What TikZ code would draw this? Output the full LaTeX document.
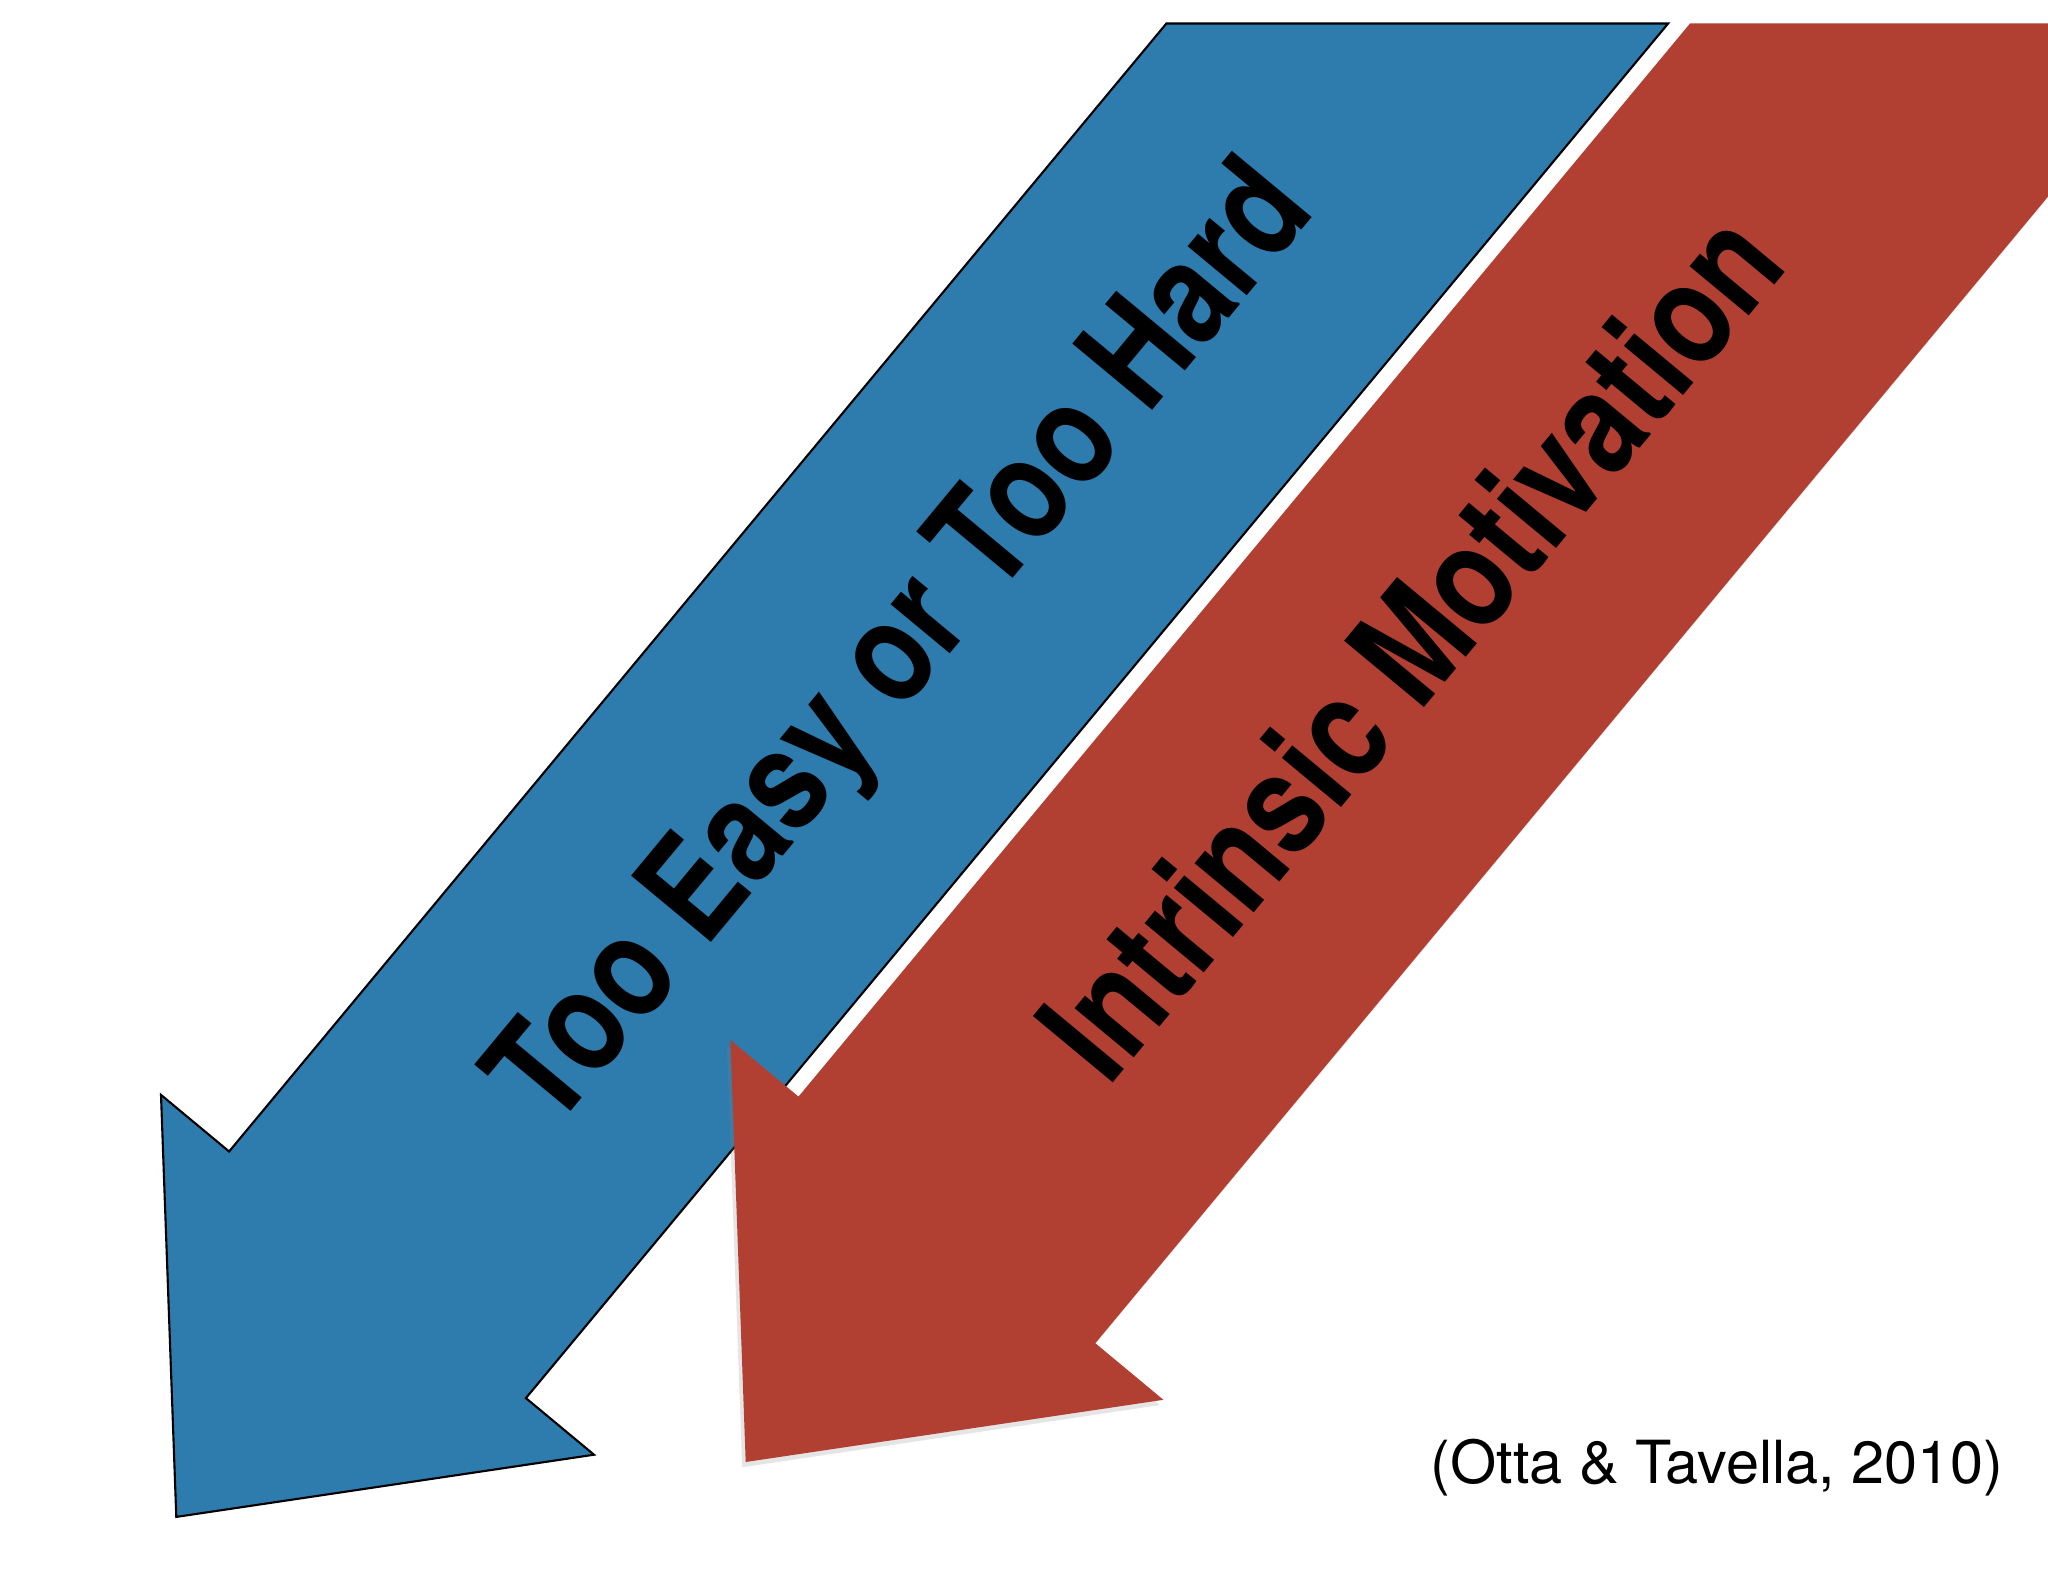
\documentclass[tikz,border=0pt]{standalone}
\usepackage{fontspec}
\setmainfont{TeX Gyre Heros}
\newfontfamily\arrowfont[FakeStretch=0.82]{TeX Gyre Heros}
\usetikzlibrary{shadows}
\definecolor{paperblue}{RGB}{46,124,174}
\definecolor{paperred}{RGB}{177,64,50}

\begin{document}
\begin{tikzpicture}[x=0.01cm,y=-0.01cm]
    \tikzstyle{arrowtext}=[font=\arrowfont\bfseries\fontsize{40.5}{48}\selectfont,rotate=50.3,inner sep=0pt,anchor=base]
    \tikzstyle{reftext}=[font=\fontsize{16.9}{20}\selectfont,inner sep=0pt]
    \useasboundingbox (0,0) rectangle (2048,1582);
    \fill [white] (0,0) rectangle (2048,1582);

    \filldraw [fill=paperblue,draw=black,line width=0.6pt] (1166.4,23.5) -- (1668.1,23.5) -- (525.9,1398.1) -- (594,1454.7)
        -- (176.3,1516.9) -- (161,1094.9) -- (229.1,1151.5) -- cycle;

    \fill [paperred,drop shadow={shadow xshift=-1pt,shadow yshift=-1.5pt,opacity=0.2}] (1690,23.5) -- (2048,23.5) -- (2048,196.6)
        -- (1095.3,1343.2) -- (1163.4,1399.8) -- (745.7,1462) -- (730.4,1040) -- (798.5,1096.6) -- cycle;

    \node (easy) at (935.6,672) [arrowtext] {Too Easy or Too Hard};
    \node (motiv) at (1449.5,677.5) [arrowtext] {Intrinsic Motivation};
    \node (cite) at (1717,1468) [reftext] {(Otta \& Tavella, 2010)};
\end{tikzpicture}
\end{document}
